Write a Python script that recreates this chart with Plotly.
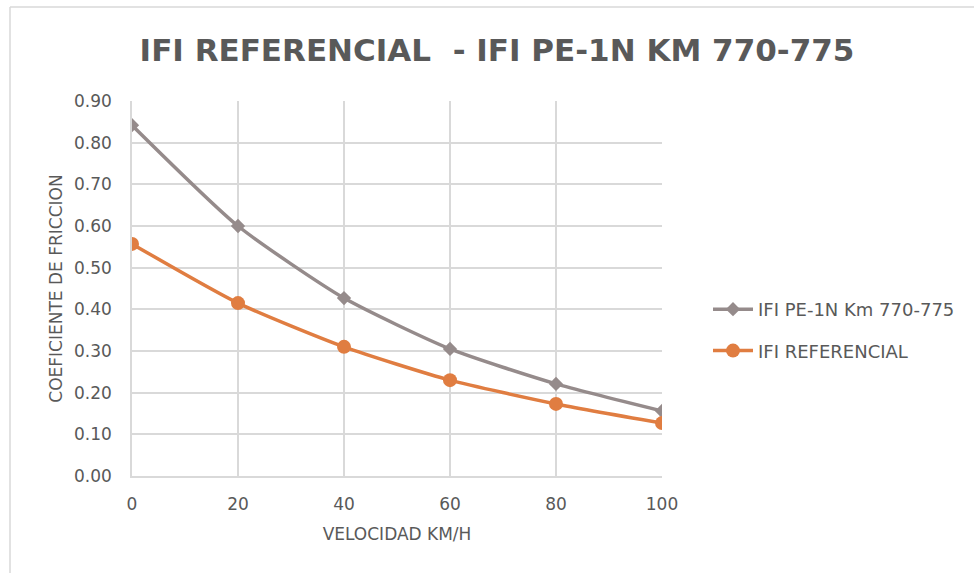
import plotly.graph_objects as go

velocidad = [0, 20, 40, 60, 80, 100]
ifi_pe1n = [0.842, 0.600, 0.427, 0.305, 0.221, 0.156]
ifi_ref = [0.557, 0.415, 0.310, 0.230, 0.173, 0.127]
name_pe1n = "IFI PE-1N Km 770-775"
name_ref = "IFI REFERENCIAL"
title_text = "IFI REFERENCIAL  - IFI PE-1N KM 770-775"

W, H = 974, 573
ml, mr, mt, mb = 132, 312, 101, 97
pw, ph = W - ml - mr, H - mt - mb

fig = go.Figure()
fig.add_trace(go.Scatter(
    x=velocidad, y=ifi_pe1n, name=name_pe1n, mode="lines+markers", legendgroup="a",
    line=dict(color="#958b8b", width=3.5, shape="spline", smoothing=0.6),
    marker=dict(symbol="diamond", size=11, color="#958b8b"),
))
fig.add_trace(go.Scatter(
    x=velocidad, y=ifi_ref, name=name_ref, mode="lines+markers", legendgroup="b",
    line=dict(color="#e07d41", width=3.5, shape="spline", smoothing=0.6),
    marker=dict(symbol="circle", size=14, color="#e07d41"),
))

font_c = "#595959"
ff = "DejaVu Sans, sans-serif"
fig.update_layout(
    width=W, height=H,
    margin=dict(l=ml, r=mr, t=mt, b=mb),
    paper_bgcolor="white", plot_bgcolor="white",
    font=dict(family=ff, color=font_c, size=16),
    title=dict(text="<b>" + title_text + "</b>", x=497 / W, xanchor="center",
               y=1 - 50 / H, yanchor="middle",
               font=dict(family=ff, size=31, color=font_c)),
    xaxis=dict(range=[0, 100], tickvals=velocidad, showgrid=True, gridcolor="#d9d9d9",
               gridwidth=1.5, zeroline=False, showline=True, linecolor="#d9d9d9", linewidth=1.5,
               ticks="", ticklabelstandoff=12,
               title=dict(text="VELOCIDAD KM/H", font=dict(size=17, color=font_c), standoff=15),
               tickfont=dict(size=17, color=font_c)),
    yaxis=dict(range=[0, 0.9], dtick=0.1, tickformat=".2f", showgrid=True,
               gridcolor="#d9d9d9", gridwidth=1.5, zeroline=False, showline=True,
               linecolor="#d9d9d9", linewidth=1.5, ticks="", ticklabelstandoff=15,
               title=dict(text="COEFICIENTE DE FRICCION", font=dict(size=17, color=font_c), standoff=7),
               tickfont=dict(size=17, color=font_c)),
    legend=dict(x=(708 - ml) / pw, xanchor="left", y=(H - mb - 291) / ph, yanchor="top",
                font=dict(size=18, color=font_c), bgcolor="rgba(0,0,0,0)",
                traceorder="grouped", tracegroupgap=15, itemwidth=40),
    showlegend=True,
)

# outer chart border
x0 = (10 - ml) / pw
y1 = (H - mb - 7) / ph
fig.add_shape(type="line", xref="paper", yref="paper", x0=x0, x1=x0, y0=(H - mb - H) / ph, y1=y1,
              line=dict(color="#d9d9d9", width=1.5))
fig.add_shape(type="line", xref="paper", yref="paper", x0=x0, x1=(W - ml) / pw, y0=y1, y1=y1,
              line=dict(color="#d9d9d9", width=1.5))

fig.write_html("out.html")
